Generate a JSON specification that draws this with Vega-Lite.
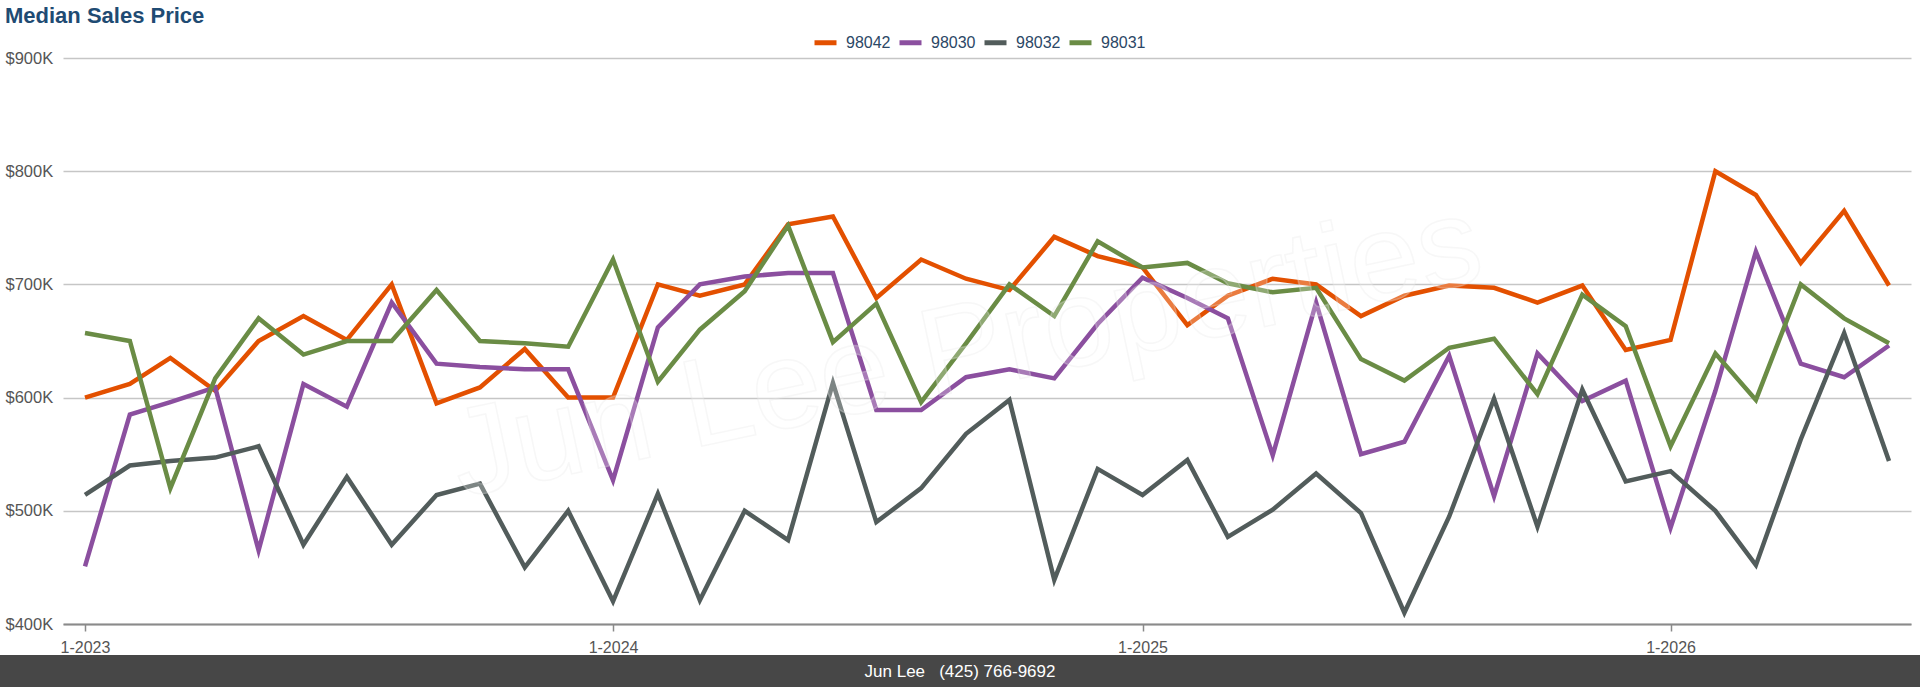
{
  "$schema": "https://vega.github.io/schema/vega-lite/v6.json",
  "padding": {"top": 5, "left": 0, "right": 0, "bottom": 0},
  "background": "white",
  "spacing": 0,
  "config": {"font": "Liberation Sans", "view": {"stroke": null}},
  "vconcat": [
    {
      "title": {
        "text": "Median Sales Price",
        "anchor": "start",
        "frame": "group",
        "fontSize": 22,
        "fontWeight": "bold",
        "color": "#1f4b73",
        "font": "Liberation Sans",
        "offset": 22,
        "dx": 5
      },
      "width": 1920,
      "height": 566,
      "layer": [
        {
          "data": {
            "values": [
              {"date": "2023/01/01", "98042": 600000, "98030": 451000, "98032": 514000, "98031": 657000},
              {"date": "2023/02/01", "98042": 612000, "98030": 585000, "98032": 540000, "98031": 650000},
              {"date": "2023/03/01", "98042": 635000, "98030": 596000, "98032": 544000, "98031": 520000},
              {"date": "2023/04/01", "98042": 606000, "98030": 609000, "98032": 547000, "98031": 617000},
              {"date": "2023/05/01", "98042": 650000, "98030": 465000, "98032": 557000, "98031": 670000},
              {"date": "2023/06/01", "98042": 672000, "98030": 612000, "98032": 470000, "98031": 638000},
              {"date": "2023/07/01", "98042": 651000, "98030": 592000, "98032": 530000, "98031": 650000},
              {"date": "2023/08/01", "98042": 700000, "98030": 684000, "98032": 470000, "98031": 650000},
              {"date": "2023/09/01", "98042": 595000, "98030": 630000, "98032": 514000, "98031": 695000},
              {"date": "2023/10/01", "98042": 609000, "98030": 627000, "98032": 524000, "98031": 650000},
              {"date": "2023/11/01", "98042": 643000, "98030": 625000, "98032": 450000, "98031": 648000},
              {"date": "2023/12/01", "98042": 600000, "98030": 625000, "98032": 500000, "98031": 645000},
              {"date": "2024/01/01", "98042": 600000, "98030": 527000, "98032": 420000, "98031": 722000},
              {"date": "2024/02/01", "98042": 700000, "98030": 662000, "98032": 515000, "98031": 614000},
              {"date": "2024/03/01", "98042": 690000, "98030": 700000, "98032": 421000, "98031": 660000},
              {"date": "2024/04/01", "98042": 700000, "98030": 707000, "98032": 500000, "98031": 694000},
              {"date": "2024/05/01", "98042": 753000, "98030": 710000, "98032": 474000, "98031": 752000},
              {"date": "2024/06/01", "98042": 760000, "98030": 710000, "98032": 613000, "98031": 649000},
              {"date": "2024/07/01", "98042": 688000, "98030": 589000, "98032": 490000, "98031": 683000},
              {"date": "2024/08/01", "98042": 722000, "98030": 589000, "98032": 520000, "98031": 596000},
              {"date": "2024/09/01", "98042": 705000, "98030": 618000, "98032": 568000, "98031": 648000},
              {"date": "2024/10/01", "98042": 695000, "98030": 625000, "98032": 598000, "98031": 700000},
              {"date": "2024/11/01", "98042": 742000, "98030": 617000, "98032": 439000, "98031": 672000},
              {"date": "2024/12/01", "98042": 725000, "98030": 665000, "98032": 537000, "98031": 738000},
              {"date": "2025/01/01", "98042": 715000, "98030": 706000, "98032": 514000, "98031": 715000},
              {"date": "2025/02/01", "98042": 664000, "98030": 688000, "98032": 545000, "98031": 719000},
              {"date": "2025/03/01", "98042": 690000, "98030": 670000, "98032": 477000, "98031": 701000},
              {"date": "2025/04/01", "98042": 705000, "98030": 549000, "98032": 501000, "98031": 693000},
              {"date": "2025/05/01", "98042": 700000, "98030": 684000, "98032": 533000, "98031": 697000},
              {"date": "2025/06/01", "98042": 672000, "98030": 550000, "98032": 498000, "98031": 634000},
              {"date": "2025/07/01", "98042": 690000, "98030": 561000, "98032": 410000, "98031": 615000},
              {"date": "2025/08/01", "98042": 699000, "98030": 637000, "98032": 495000, "98031": 644000},
              {"date": "2025/09/01", "98042": 697000, "98030": 513000, "98032": 599000, "98031": 652000},
              {"date": "2025/10/01", "98042": 684000, "98030": 639000, "98032": 486000, "98031": 603000},
              {"date": "2025/11/01", "98042": 699000, "98030": 597000, "98032": 607000, "98031": 691000},
              {"date": "2025/12/01", "98042": 642000, "98030": 615000, "98032": 526000, "98031": 663000},
              {"date": "2026/01/01", "98042": 651000, "98030": 485000, "98032": 535000, "98031": 557000},
              {"date": "2026/02/01", "98042": 800000, "98030": 606000, "98032": 500000, "98031": 639000},
              {"date": "2026/03/01", "98042": 779000, "98030": 729000, "98032": 452000, "98031": 598000},
              {"date": "2026/04/01", "98042": 719000, "98030": 630000, "98032": 563000, "98031": 700000},
              {"date": "2026/05/01", "98042": 765000, "98030": 618000, "98032": 657000, "98031": 670000},
              {"date": "2026/06/01", "98042": 699000, "98030": 646000, "98032": 544000, "98031": 648000}
            ]
          },
          "transform": [
            {"fold": ["98042", "98030", "98032", "98031"], "as": ["zip", "price"]}
          ],
          "mark": {"type": "line", "strokeWidth": 4.5},
          "encoding": {
            "x": {
              "field": "date",
              "type": "temporal",
              "scale": {"range": [63, 1911], "padding": 22, "nice": false},
              "axis": {
                "title": null,
                "format": "%-m-%Y",
                "tickCount": {"interval": "year", "step": 1},
                "grid": false,
                "domainColor": "#8a8a8a",
                "domainWidth": 2,
                "tickColor": "#8a8a8a",
                "tickSize": 7,
                "tickWidth": 1.5,
                "labelFontSize": 16,
                "labelColor": "#555555",
                "labelPadding": 8,
                "labelFlush": false
              }
            },
            "y": {
              "field": "price",
              "type": "quantitative",
              "scale": {"domain": [400000, 900000], "nice": false, "zero": false},
              "axis": {
                "title": null,
                "values": [400000, 500000, 600000, 700000, 800000, 900000],
                "labelExpr": "'$' + format(datum.value / 1000, 'd') + 'K'",
                "domain": false,
                "ticks": false,
                "gridColor": "#c6c6c6",
                "gridWidth": 1.3,
                "labelFontSize": 16.5,
                "labelColor": "#555555",
                "labelAlign": "left",
                "labelPadding": -5
              }
            },
            "color": {
              "field": "zip",
              "type": "nominal",
              "scale": {
                "domain": ["98042", "98030", "98032", "98031"],
                "range": ["#e35000", "#8b4f9f", "#525c5b", "#6a8c45"]
              },
              "legend": {
                "orient": "none",
                "legendX": 812,
                "legendY": -29,
                "direction": "horizontal",
                "columns": 4,
                "title": null,
                "symbolType": "stroke",
                "symbolSize": 484,
                "symbolStrokeWidth": 5,
                "labelFontSize": 16,
                "labelColor": "#2b4766",
                "labelOffset": 7,
                "columnPadding": -2
              }
            }
          }
        },
        {
          "data": {"values": [{"watermark": "Jun Lee Properties"}]},
          "mark": {
            "type": "text",
            "fontSize": 125,
            "angle": -12,
            "align": "center",
            "baseline": "middle",
            "fill": "white",
            "fillOpacity": 0.25,
            "stroke": "#e6e6e6",
            "strokeOpacity": 0.3,
            "strokeWidth": 1.5
          },
          "encoding": {
            "x": {"datum": {"year": 2024, "month": 9, "date": 1}, "type": "temporal"},
            "y": {"datum": 641000, "type": "quantitative"},
            "text": {"field": "watermark"}
          }
        }
      ]
    },
    {
      "width": 1920,
      "height": 33,
      "view": {"fill": "#474747", "stroke": null},
      "data": {"values": [{"contact": "Jun Lee\u00a0\u00a0\u00a0(425) 766-9692"}]},
      "mark": {"type": "text", "color": "white", "fontSize": 17, "align": "center", "baseline": "middle"},
      "encoding": {"text": {"field": "contact"}}
    }
  ]
}
